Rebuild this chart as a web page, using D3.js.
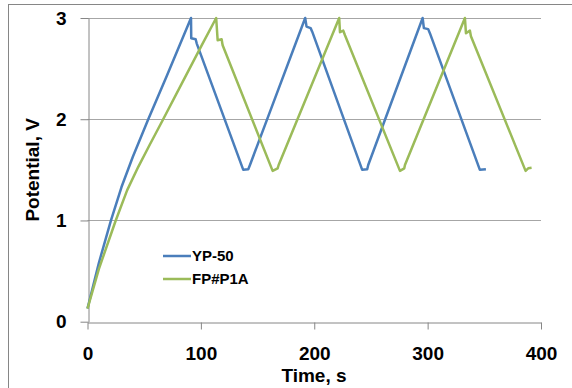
<!DOCTYPE html>
<html>
<head>
<meta charset="utf-8">
<script src="https://cdn.jsdelivr.net/npm/d3@7"></script>
<style>
  body { margin: 0; background: #fff; }
  svg { display: block; font-family: "Liberation Sans", Arial, sans-serif; }
  .axis text { font-size: 19px; font-weight: bold; fill: #000; }
  .axis path, .axis line { stroke: #868686; }
</style>
</head>
<body>
<div id="chart"></div>
<script>
// data: [time s, potential V]
const ypTime = [0, 10, 20.7, 30, 40, 53.6, 70, 91.3, 91.5, 95.4, 96.3,
  137.4, 141.8, 143.3, 192, 193.2, 196.8, 198.2,
  242.3, 246.7, 247.6, 295.6, 296.7, 300.5, 302,
  346.1, 351.4]
const ypVolt = [0.13, 0.58, 1.0, 1.33, 1.63, 2.0, 2.43, 3.0, 2.8, 2.79, 2.75,
  1.5, 1.506, 1.548, 3.0, 2.915, 2.9, 2.865,
  1.5, 1.506, 1.548, 3.0, 2.9, 2.89, 2.85,
  1.5, 1.506]

const fpTime = [0, 10, 24.9, 35, 44.8, 55, 66.3, 83, 100.7, 113.5, 114.8, 118.3, 119.2,
  163.3, 167.7, 168.6, 222, 222.7, 225.6, 227.1,
  275.6, 279.4, 280, 332.9, 333.8, 337.3, 338.2,
  386.4, 388.7, 391.7]
const fpVolt = [0.13, 0.52, 1.0, 1.3, 1.53, 1.75, 1.99, 2.35, 2.73, 3.0, 2.78, 2.79, 2.73,
  1.49, 1.515, 1.548, 3.0, 2.86, 2.875, 2.83,
  1.49, 1.515, 1.548, 3.0, 2.85, 2.875, 2.82,
  1.49, 1.515, 1.52]

const seriesNames = ["YP-50", "FP#P1A"]
const seriesColors = ["#4a7ebb", "#9bbb59"]
const xTicks = [0, 100, 200, 300, 400]
const yTicks = [0, 1, 2, 3]

const width = 572
const height = 388

const svg = d3.select("#chart")
  .append("svg")
  .attr("width", width)
  .attr("height", height)

// outer frame
svg.append("rect")
  .attr("x", 8.5)
  .attr("y", 4.5)
  .attr("width", 620)
  .attr("height", 420)
  .attr("fill", "none")
  .attr("stroke", "#868686")

const xScale = d3.scaleLinear()
  .domain([0, 400])
  .range([87.5, 541])

const yScale = d3.scaleLinear()
  .domain([0, 3])
  .range([321.7, 18])

// gridlines
svg.append("g")
  .selectAll("line")
  .data(yTicks.filter(d => d > 0))
  .enter()
  .append("line")
    .attr("x1", xScale(0))
    .attr("x2", xScale(400))
    .attr("y1", d => Math.round(yScale(d)) + 0.5)
    .attr("y2", d => Math.round(yScale(d)) + 0.5)
    .attr("stroke", "#a6a6a6")

const xAxis = svg.append("g")
  .attr("class", "axis")
  .attr("transform", `translate(0, ${Math.round(yScale(0)) + 0.5})`)
  .call(d3.axisBottom(xScale).tickValues(xTicks).tickFormat(d3.format("d"))
    .tickSize(7).tickSizeOuter(0).tickPadding(17))

const yAxis = svg.append("g")
  .attr("class", "axis")
  .attr("transform", `translate(${Math.round(xScale(0)) + 0.5}, 0)`)
  .call(d3.axisLeft(yScale).tickValues(yTicks).tickFormat(d3.format("d"))
    .tickSize(8).tickSizeOuter(0).tickPadding(14))

svg.append("text")
  .attr("x", 314)
  .attr("y", 382)
  .attr("text-anchor", "middle")
  .style("font-size", "19px")
  .style("font-weight", "bold")
  .text("Time, s")

svg.append("text")
  .attr("transform", `translate(39, ${yScale(1.5)}) rotate(-90)`)
  .attr("text-anchor", "middle")
  .style("font-size", "19px")
  .style("font-weight", "bold")
  .text("Potential, V")

// lines
const line = d3.line()
  .x(d => xScale(d[0]))
  .y(d => yScale(d[1]))

const series = [
  d3.zip(ypTime, ypVolt),
  d3.zip(fpTime, fpVolt)
]

svg.append("g")
  .selectAll("path")
  .data(series)
  .enter()
  .append("path")
    .attr("d", line)
    .attr("fill", "none")
    .attr("stroke", (d, i) => seriesColors[i])
    .attr("stroke-width", 2.5)
    .attr("stroke-linejoin", "round")

// legend
const legend = svg.append("g")
  .selectAll("g")
  .data(seriesNames)
  .enter()
  .append("g")
    .attr("transform", (d, i) => `translate(163, ${256 + i * 23})`)

legend.append("line")
  .attr("x1", 0)
  .attr("x2", 28)
  .attr("stroke", (d, i) => seriesColors[i])
  .attr("stroke-width", 2.5)

legend.append("text")
  .attr("x", 29)
  .attr("dy", "0.35em")
  .style("font-size", "15px")
  .style("font-weight", "bold")
  .text(d => d)
</script>
</body>
</html>
